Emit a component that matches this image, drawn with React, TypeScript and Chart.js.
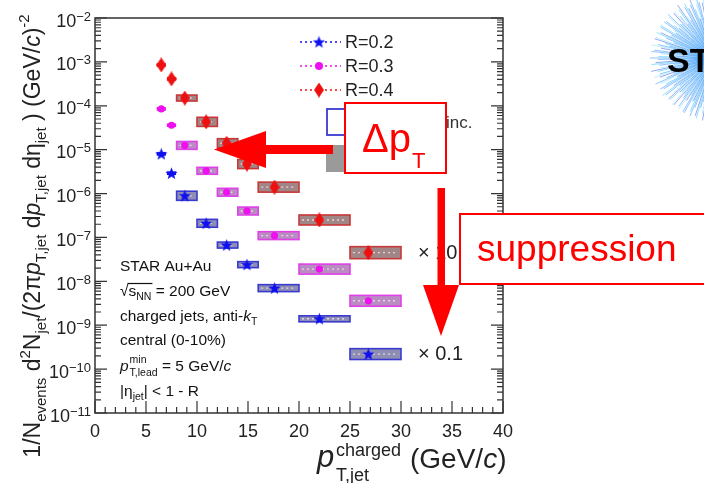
import React, { useEffect, useRef } from "react";
import { Chart, registerables } from "chart.js";

Chart.register(...registerables);

// ---------------- data ----------------
const binLow = [6, 7, 8, 10, 12, 14, 16, 20, 25];
const binHigh = [7, 8, 10, 12, 14, 16, 20, 25, 30];
const meanPt = [6.5, 7.5, 8.8, 10.9, 12.9, 14.9, 17.6, 22.0, 26.8];

const yieldR02 = [8.0e-6, 2.9e-6, 8.9e-7, 2.1e-7, 6.7e-8, 2.4e-8, 7.0e-9, 1.4e-9, 2.2e-10];
const yieldR03 = [8.5e-5, 3.6e-5, 1.25e-5, 3.3e-6, 1.07e-6, 4.0e-7, 1.1e-7, 1.9e-8, 3.6e-9];
const yieldR04 = [8.5e-4, 4.1e-4, 1.5e-4, 4.3e-5, 1.4e-5, 4.7e-6, 1.4e-6, 2.5e-7, 4.5e-8];

const sysR02 = [0.1, 0.1, 0.27, 0.23, 0.17, 0.17, 0.2, 0.17, 0.33];
const sysR03 = [0.1, 0.1, 0.23, 0.2, 0.23, 0.23, 0.23, 0.3, 0.33];
const sysR04 = [0.1, 0.1, 0.17, 0.27, 0.27, 0.27, 0.3, 0.3, 0.37];

const seriesLabels = ["R=0.2", "R=0.3", "R=0.4"];
const xTickValues = [0, 5, 10, 15, 20, 25, 30, 35, 40];
const yDecades = [-11, -10, -9, -8, -7, -6, -5, -4, -3, -2];
const scaleNotes = ["\u00d7 10", "\u00d7 0.1"];

const FONT = '"Liberation Sans", Arial, Helvetica, sans-serif';

type Seg = { t: string; size: number; dy?: number; it?: boolean };

function segWidth(ctx: CanvasRenderingContext2D, segs: Seg[]) {
  let w = 0;
  for (const s of segs) {
    ctx.font = `${s.it ? "italic " : ""}${s.size}px ${FONT}`;
    w += ctx.measureText(s.t).width;
  }
  return w;
}
function drawSegs(ctx: CanvasRenderingContext2D, segs: Seg[], x: number, y: number) {
  let cx = x;
  for (const s of segs) {
    ctx.font = `${s.it ? "italic " : ""}${s.size}px ${FONT}`;
    ctx.fillText(s.t, cx, y + (s.dy || 0));
    cx += ctx.measureText(s.t).width;
  }
  return cx;
}

function makeStar(color: string, R: number) {
  const c = document.createElement("canvas");
  const s = Math.ceil(R * 2 + 2);
  c.width = s;
  c.height = s;
  const g = c.getContext("2d")!;
  g.fillStyle = color;
  g.beginPath();
  for (let i = 0; i < 10; i++) {
    const r = i % 2 ? R * 0.42 : R;
    const a = -Math.PI / 2 + (i * Math.PI) / 5;
    const px = s / 2 + r * Math.cos(a);
    const py = s / 2 + 0.5 + r * Math.sin(a);
    if (i === 0) g.moveTo(px, py);
    else g.lineTo(px, py);
  }
  g.closePath();
  g.fill();
  return c;
}
function makeDiamond(color: string, w: number, h: number) {
  const c = document.createElement("canvas");
  c.width = w;
  c.height = h;
  const g = c.getContext("2d")!;
  g.fillStyle = color;
  g.beginPath();
  g.moveTo(w / 2, 0);
  g.lineTo(w, h / 2);
  g.lineTo(w / 2, h);
  g.lineTo(0, h / 2);
  g.closePath();
  g.fill();
  return c;
}

const seriesColors = ["#1010ee", "#ee10ee", "#ee1010"];
const boxFill = ["#8e8eb4", "#b98cc2", "#a08686"];
const boxBorder = ["#3a3ad0", "#e040e8", "#c83838"];

export default function App() {
  const ref = useRef<HTMLCanvasElement | null>(null);

  useEffect(() => {
    const canvas = ref.current!;
    const star = makeStar(seriesColors[0], 6.5);
    const diamond = makeDiamond(seriesColors[2], 10, 15);
    const yields = [yieldR02, yieldR03, yieldR04];
    const syss = [sysR02, sysR03, sysR04];

    const plugin = {
      id: "starDeco",
      beforeDatasetsDraw(chart: any) {
        const ctx: CanvasRenderingContext2D = chart.ctx;
        const xs = chart.scales.x;
        const ys = chart.scales.y;
        ctx.save();
        for (let k = 0; k < 3; k++) {
          for (let i = 0; i < binLow.length; i++) {
            const v = yields[k][i];
            const s = syss[k][i];
            const x1 = xs.getPixelForValue(binLow[i]);
            const x2 = xs.getPixelForValue(binHigh[i]);
            const yTop = ys.getPixelForValue(v * (1 + s));
            const yBot = ys.getPixelForValue(v / (1 + s));
            const yc = ys.getPixelForValue(v);
            const narrow = binHigh[i] - binLow[i] <= 1;
            if (narrow) {
              ctx.fillStyle = seriesColors[k];
              ctx.fillRect(x1 + 0.5, yTop, x2 - x1 - 1, yBot - yTop);
              continue;
            }
            ctx.fillStyle = boxFill[k];
            ctx.fillRect(x1, yTop, x2 - x1, yBot - yTop);
            ctx.strokeStyle = boxBorder[k];
            ctx.lineWidth = 1.6;
            ctx.strokeRect(x1, yTop, x2 - x1, yBot - yTop);
            ctx.setLineDash([2, 3]);
            ctx.strokeStyle = "rgba(255,235,245,0.75)";
            ctx.lineWidth = 1.4;
            ctx.beginPath();
            ctx.moveTo(x1 + 3, yc);
            ctx.lineTo(x2 - 3, yc);
            ctx.stroke();
            ctx.setLineDash([]);
          }
        }
        ctx.restore();
      },
      afterDraw(chart: any) {
        const ctx: CanvasRenderingContext2D = chart.ctx;
        const xs = chart.scales.x;
        const ys = chart.scales.y;
        const a = chart.chartArea;
        ctx.save();
        // frame
        ctx.strokeStyle = "#333";
        ctx.lineWidth = 1.5;
        ctx.strokeRect(a.left, a.top, a.right - a.left, a.bottom - a.top);
        // y ticks
        ctx.lineWidth = 1.2;
        ctx.strokeStyle = "#333";
        for (const d of yDecades) {
          for (let m = 1; m <= 9; m++) {
            const v = m * Math.pow(10, d);
            if (v > 1e-2 * 1.0001) continue;
            const py = ys.getPixelForValue(v);
            const len = m === 1 ? 12 : 6;
            ctx.beginPath();
            ctx.moveTo(a.left, py);
            ctx.lineTo(a.left + len, py);
            ctx.moveTo(a.right, py);
            ctx.lineTo(a.right - len, py);
            ctx.stroke();
          }
        }
        // x ticks
        for (let xv = 0; xv <= 40; xv++) {
          const px = xs.getPixelForValue(xv);
          const len = xv % 5 === 0 ? 12 : 6;
          ctx.beginPath();
          ctx.moveTo(px, a.bottom);
          ctx.lineTo(px, a.bottom - len);
          ctx.stroke();
        }
        // tick labels
        ctx.fillStyle = "#222";
        ctx.textBaseline = "alphabetic";
        for (const d of yDecades) {
          const py = ys.getPixelForValue(Math.pow(10, d));
          const segs: Seg[] = [
            { t: "10", size: 18 },
            { t: "\u2212" + String(-d), size: 13, dy: -6 },
          ];
          const w = segWidth(ctx, segs);
          drawSegs(ctx, segs, 91 - w, py + 8.5);
        }
        ctx.textAlign = "center";
        ctx.font = `18px ${FONT}`;
        for (const xv of xTickValues) {
          ctx.fillText(String(xv), xs.getPixelForValue(xv), a.bottom + 24);
        }
        ctx.textAlign = "left";

        // axis titles
        ctx.save();
        ctx.translate(40, 236);
        ctx.rotate(-Math.PI / 2);
        const M = 23;
        const S = 15;
        const ylab: Seg[] = [
          { t: "1/N", size: M },
          { t: "events", size: S, dy: 6 },
          { t: " d", size: M },
          { t: "2", size: S, dy: -10 },
          { t: "N", size: M },
          { t: "jet", size: S, dy: 6 },
          { t: "/(2\u03c0", size: M },
          { t: "p", size: M, it: true },
          { t: "T,jet", size: S, dy: 6 },
          { t: " d", size: M },
          { t: "p", size: M, it: true },
          { t: "T,jet", size: S, dy: 6 },
          { t: " d\u03b7", size: M },
          { t: "jet", size: S, dy: 6 },
          { t: " ) (GeV/", size: M },
          { t: "c", size: M, it: true },
          { t: ")", size: M },
          { t: "-2", size: S, dy: -11 },
        ];
        const yw = segWidth(ctx, ylab);
        drawSegs(ctx, ylab, -yw / 2, 0);
        ctx.restore();

        ctx.font = `italic 31px ${FONT}`;
        ctx.fillText("p", 317, 467);
        ctx.font = `18px ${FONT}`;
        ctx.fillText("charged", 336, 456);
        ctx.fillText("T,jet", 336, 481);
        drawSegs(
          ctx,
          [
            { t: "(GeV/", size: 28 },
            { t: "c", size: 28, it: true },
            { t: ")", size: 28 },
          ],
          410,
          468
        );

        // legend
        const legY = [42, 66, 90];
        for (let k = 0; k < 3; k++) {
          ctx.strokeStyle = seriesColors[k];
          ctx.lineWidth = 1.5;
          ctx.setLineDash([2, 3]);
          ctx.beginPath();
          ctx.moveTo(300, legY[k]);
          ctx.lineTo(341, legY[k]);
          ctx.stroke();
          ctx.setLineDash([]);
          if (k === 0) ctx.drawImage(star, 319 - star.width / 2, legY[k] - star.height / 2);
          if (k === 1) {
            ctx.fillStyle = seriesColors[1];
            ctx.beginPath();
            ctx.arc(319, legY[k], 4, 0, Math.PI * 2);
            ctx.fill();
          }
          if (k === 2) ctx.drawImage(diamond, 319 - diamond.width / 2, legY[k] - diamond.height / 2);
          ctx.fillStyle = "#222";
          ctx.font = `18px ${FONT}`;
          ctx.textBaseline = "middle";
          ctx.fillText(seriesLabels[k], 345, legY[k] + 1);
          ctx.textBaseline = "alphabetic";
        }
        // uncertainty legend entries
        ctx.strokeStyle = "#3a3ad0";
        ctx.lineWidth = 1.8;
        ctx.strokeRect(327, 109, 30, 26);
        ctx.fillStyle = "#9a9a9a";
        ctx.fillRect(326, 145, 30, 27);
        ctx.fillStyle = "#333";
        ctx.font = `17px ${FONT}`;
        ctx.fillText("inc.", 446, 128);

        // info text
        const F = 15.5;
        const FS = 10.5;
        ctx.fillStyle = "#111";
        ctx.font = `${F}px ${FONT}`;
        ctx.fillText("STAR Au+Au", 120, 271);
        // sqrt s_NN
        {
          const x0 = 120;
          const yb = 296;
          ctx.font = `${F}px ${FONT}`;
          ctx.fillText("\u221a", x0, yb);
          const wr = ctx.measureText("\u221a").width;
          let cx = drawSegs(
            ctx,
            [
              { t: "s", size: F },
              { t: "NN", size: FS, dy: 4 },
            ],
            x0 + wr,
            yb
          );
          ctx.strokeStyle = "#111";
          ctx.lineWidth = 1.2;
          ctx.beginPath();
          ctx.moveTo(x0 + wr - 1, yb - 12.5);
          ctx.lineTo(cx + 1, yb - 12.5);
          ctx.stroke();
          drawSegs(ctx, [{ t: " = 200 GeV", size: F }], cx, yb);
        }
        drawSegs(
          ctx,
          [
            { t: "charged jets, anti-", size: F },
            { t: "k", size: F, it: true },
            { t: "T", size: FS, dy: 4 },
          ],
          120,
          321
        );
        drawSegs(ctx, [{ t: "central (0-10%)", size: F }], 120, 345);
        {
          const yb = 371;
          ctx.font = `italic ${F}px ${FONT}`;
          ctx.fillText("p", 120, yb);
          const xp = 120 + ctx.measureText("p").width + 1;
          ctx.font = `${FS}px ${FONT}`;
          ctx.fillText("min", xp, yb - 8);
          ctx.fillText("T,lead", xp, yb + 5);
          const w2 = Math.max(ctx.measureText("min").width, ctx.measureText("T,lead").width);
          drawSegs(
            ctx,
            [
              { t: " = 5 GeV/", size: F },
              { t: "c", size: F, it: true },
            ],
            xp + w2,
            yb
          );
        }
        drawSegs(
          ctx,
          [
            { t: "|\u03b7", size: F },
            { t: "jet", size: FS, dy: 4 },
            { t: "| < 1 - R", size: F },
          ],
          120,
          396
        );

        // scale notes
        ctx.fillStyle = "#222";
        ctx.font = `20px ${FONT}`;
        ctx.textBaseline = "middle";
        ctx.fillText(scaleNotes[0], 418, 253);
        ctx.fillText(scaleNotes[1], 418, 354);
        ctx.textBaseline = "alphabetic";

        // STAR logo (decorative)
        ctx.save();
        const cxl = 714;
        const cyl = 58;
        const cols = ["#2a7fff", "#18c8ff", "#3050d8", "#7fdcff", "#1e90ff"];
        for (let i = 0; i < 240; i++) {
          const ang = (i / 240) * Math.PI * 2;
          const rr = 36 + 24 * Math.abs(Math.sin(i * 2.37)) + 5 * Math.abs(Math.cos(i * 5.1));
          ctx.strokeStyle = cols[i % cols.length];
          ctx.globalAlpha = 0.5;
          ctx.lineWidth = 1;
          ctx.beginPath();
          ctx.moveTo(cxl + 8 * Math.cos(ang), cyl + 8 * Math.sin(ang));
          ctx.lineTo(cxl + rr * Math.cos(ang), cyl + rr * Math.sin(ang));
          ctx.stroke();
        }
        ctx.globalAlpha = 1;
        ctx.fillStyle = "#000";
        ctx.font = `bold 34px ${FONT}`;
        ctx.fillText("STAR", 667, 72);
        ctx.restore();

        // left red arrow
        ctx.fillStyle = "#ff0000";
        ctx.fillRect(262, 145, 71, 9);
        ctx.beginPath();
        ctx.moveTo(214, 149.5);
        ctx.lineTo(266, 131);
        ctx.lineTo(266, 168);
        ctx.closePath();
        ctx.fill();

        // Delta pT box
        ctx.fillStyle = "#fff";
        ctx.fillRect(345, 103, 101, 70);
        ctx.strokeStyle = "#ff0000";
        ctx.lineWidth = 2;
        ctx.strokeRect(345, 103, 101, 70);
        ctx.fillStyle = "#ff0000";
        ctx.font = `40px ${FONT}`;
        ctx.fillText("\u0394p", 362, 152);
        ctx.font = `22px ${FONT}`;
        ctx.fillText("T", 412, 168);

        // suppression box
        ctx.fillStyle = "#fff";
        ctx.fillRect(460, 214, 250, 70);
        ctx.strokeStyle = "#ff0000";
        ctx.lineWidth = 2;
        ctx.strokeRect(460, 214, 250, 70);
        ctx.fillStyle = "#ff0000";
        ctx.font = `37px ${FONT}`;
        ctx.fillText("suppression", 477, 261);

        // down arrow
        ctx.fillStyle = "#ff0000";
        ctx.fillRect(437.5, 188, 7.5, 99);
        ctx.beginPath();
        ctx.moveTo(423, 285);
        ctx.lineTo(459, 285);
        ctx.lineTo(441, 336);
        ctx.closePath();
        ctx.fill();

        ctx.restore();
      },
    };

    const chart = new Chart(canvas, {
      type: "scatter",
      data: {
        datasets: [
          {
            label: seriesLabels[0],
            data: meanPt.map((x, i) => ({ x, y: yieldR02[i] })),
            pointStyle: star as any,
            pointRadius: 6,
            showLine: false,
          },
          {
            label: seriesLabels[1],
            data: meanPt.map((x, i) => ({ x, y: yieldR03[i] })),
            pointStyle: "circle",
            pointRadius: 3.6,
            backgroundColor: seriesColors[1],
            borderWidth: 0,
            showLine: false,
          },
          {
            label: seriesLabels[2],
            data: meanPt.map((x, i) => ({ x, y: yieldR04[i] })),
            pointStyle: diamond as any,
            pointRadius: 6,
            showLine: false,
          },
        ],
      },
      options: {
        animation: false,
        responsive: false,
        devicePixelRatio: 1,
        events: [],
        layout: { padding: { top: 18, right: 201, left: 0, bottom: 0 } },
        plugins: { legend: { display: false }, tooltip: { enabled: false } },
        scales: {
          x: {
            type: "linear",
            min: 0,
            max: 40,
            grid: { display: false },
            border: { display: false },
            ticks: { display: false },
            afterFit: (s: any) => {
              s.height = 70;
            },
          },
          y: {
            type: "logarithmic",
            min: 1e-11,
            max: 1e-2,
            grid: { display: false },
            border: { display: false },
            ticks: { display: false },
            afterFit: (s: any) => {
              s.width = 95;
            },
          },
        },
      },
      plugins: [plugin as any],
    });
    return () => chart.destroy();
  }, []);

  return (
    <div style={{ position: "absolute", left: 0, top: 0, width: 704, height: 483, background: "#fff" }}>
      <canvas ref={ref} width={704} height={483} style={{ width: 704, height: 483, display: "block" }} />
    </div>
  );
}
